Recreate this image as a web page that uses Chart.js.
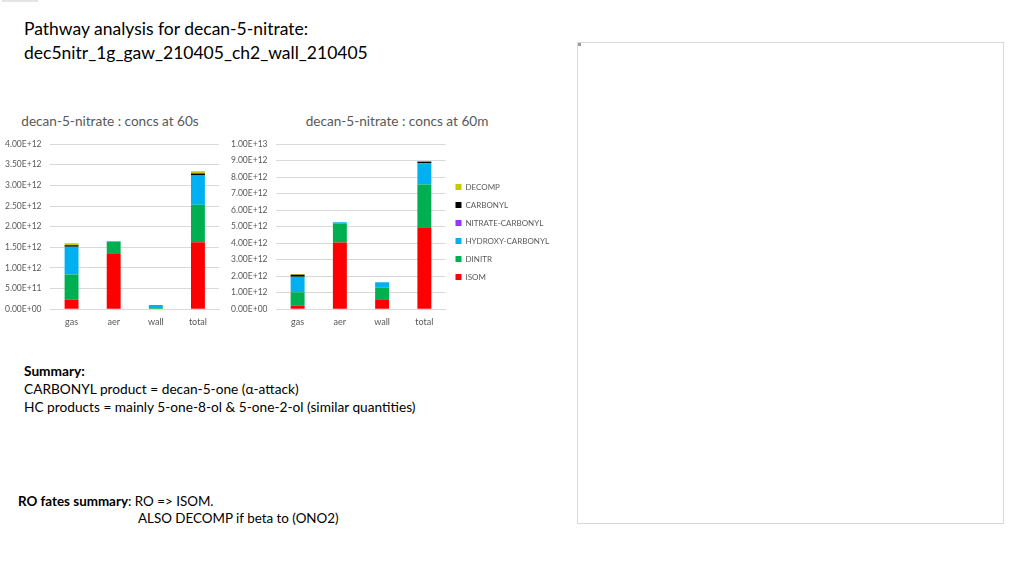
<!DOCTYPE html>
<html>
<head>
<meta charset="utf-8">
<script src="https://cdn.jsdelivr.net/npm/chart.js@4.4.1/dist/chart.umd.min.js"></script>
<style>
  html, body { margin: 0; padding: 0; background: #ffffff; }
  body { width: 1024px; height: 576px; position: relative; overflow: hidden; font-family: Lato, "Open Sans", sans-serif; color: #000; }
  .abs { position: absolute; white-space: nowrap; }
  #title { left: 24px; top: 17px; font-size: 17.5px; line-height: 24px; }
  #summary { left: 24px; top: 362px; font-size: 13.7px; line-height: 18px; }
  #ro1 { left: 18px; top: 493px; font-size: 13.4px; line-height: 17px; }
  #ro2 { left: 138px; top: 510px; font-size: 13.4px; line-height: 17px; }
  #frame { left: 577px; top: 42px; width: 425px; height: 480px; border: 1px solid #d9d9d9; }
  #mark { left: 578px; top: 43px; width: 3px; height: 3px; background: #9a9a9a; }
  #tiny { left: 2px; top: 0px; width: 36px; height: 2px; background: #e4e4e4; }
  .ctitle { position: absolute; top: 112px; width: 300px; text-align: center; font-size: 13.6px; line-height: 18px; color: #595959; white-space: nowrap; }
  .wrap { position: absolute; }
</style>
</head>
<body>
<div class="abs" id="tiny"></div>
<div class="abs" id="title">Pathway analysis for decan-5-nitrate:<br>dec5nitr_1g_gaw_210405_ch2_wall_210405</div>
<div class="abs" id="summary"><b>Summary:</b><br>CARBONYL product = decan-5-one (α-attack)<br>HC products = mainly 5-one-8-ol &amp; 5-one-2-ol (similar quantities)</div>
<div class="abs" id="ro1"><b>RO fates summary</b>: RO =&gt; ISOM.</div>
<div class="abs" id="ro2">ALSO DECOMP if beta to (ONO2)</div>
<div class="abs" id="frame"></div>
<div class="abs" id="mark"></div>

<div class="ctitle" id="t1" style="left:-40px;"></div>
<div class="ctitle" id="t2" style="left:247px;"></div>

<div class="wrap" style="left:-4px; top:130px; width:226px; height:208px;"><canvas id="c1"></canvas></div>
<div class="wrap" style="left:222px; top:130px; width:343px; height:208px;"><canvas id="c2"></canvas></div>

<script>
// ---- data ----
const categories = ["gas", "aer", "wall", "total"];
const seriesNames = ["ISOM", "DINITR", "HYDROXY-CARBONYL", "NITRATE-CARBONYL", "CARBONYL", "DECOMP"];
const seriesColors = ["#ff0000", "#00b050", "#00b0f0", "#9933ff", "#000000", "#c8c800"];
const chartTitles = ["decan-5-nitrate : concs at 60s", "decan-5-nitrate : concs at 60m"];

// concs at 60s
const isom60s    = [0.23e12, 1.34e12, 0,       1.62e12];
const dinitr60s  = [0.61e12, 0.30e12, 0.03e12, 0.91e12];
const hc60s      = [0.67e12, 0.005e12,0.07e12, 0.71e12];
const nc60s      = [0,       0,       0,       0];
const carbonyl60s= [0.04e12, 0,       0,       0.05e12];
const decomp60s  = [0.05e12, 0,       0,       0.05e12];

// concs at 60m
const isom60m    = [0.22e12, 4.04e12, 0.56e12, 4.92e12];
const dinitr60m  = [0.80e12, 1.14e12, 0.74e12, 2.63e12];
const hc60m      = [0.95e12, 0.08e12, 0.33e12, 1.29e12];
const nc60m      = [0,       0,       0,       0];
const carbonyl60m= [0.11e12, 0,       0,       0.09e12];
const decomp60m  = [0.05e12, 0,       0,       0.05e12];

const yMax60s = 4e12, yStep60s = 0.5e12;
const yMax60m = 1e13, yStep60m = 1e12;

document.getElementById("t1").textContent = chartTitles[0];
document.getElementById("t2").textContent = chartTitles[1];

// ---- helpers ----
function sci(v) {
  const s = Number(v).toExponential(2).toUpperCase();
  const m = s.match(/^(-?[\d.]+)E([+-])(\d+)$/);
  if (!m) return s;
  return m[1] + "E" + m[2] + (m[3].length < 2 ? "0" + m[3] : m[3]);
}
function makeDatasets(arrs) {
  return arrs.map((data, i) => ({
    label: seriesNames[i],
    data: data,
    backgroundColor: seriesColors[i],
    borderWidth: 0,
    categoryPercentage: 1.0,
    barPercentage: 0.33
  }));
}
const FONT = "Lato, 'Open Sans', sans-serif";
const GREY = "#595959";

function makeChart(id, datasets, yMax, yStep, showLegend) {
  return new Chart(document.getElementById(id), {
    type: "bar",
    data: { labels: categories, datasets: datasets },
    options: {
      responsive: true,
      maintainAspectRatio: false,
      animation: false,
      layout: { padding: { left: 0, right: showLegend ? 6 : 3, top: 3, bottom: 4 } },
      plugins: {
        title: { display: false },
        legend: {
          display: showLegend,
          position: "right",
          align: "start",
          reverse: true,
          maxWidth: 200,
          title: { display: true, text: "", font: { family: FONT, size: 10 }, padding: { top: 28, bottom: 0 } },
          labels: {
            boxWidth: 6, boxHeight: 6, padding: 10, color: GREY,
            font: { family: FONT, size: 8 }
          }
        },
        tooltip: { enabled: false }
      },
      scales: {
        x: {
          stacked: true,
          grid: { display: false, drawTicks: false },
          border: { display: true, color: "#d9d9d9" },
          ticks: { color: GREY, font: { family: FONT, size: 9 }, padding: 7 }
        },
        y: {
          stacked: true,
          min: 0, max: yMax,
          grid: { color: "#d9d9d9", drawTicks: false },
          border: { display: false },
          ticks: {
            stepSize: yStep, color: GREY, padding: 9,
            font: { family: FONT, size: 8.5 },
            callback: (v) => sci(v)
          }
        }
      }
    }
  });
}

makeChart("c1",
  makeDatasets([isom60s, dinitr60s, hc60s, nc60s, carbonyl60s, decomp60s]),
  yMax60s, yStep60s, false);
makeChart("c2",
  makeDatasets([isom60m, dinitr60m, hc60m, nc60m, carbonyl60m, decomp60m]),
  yMax60m, yStep60m, true);
</script>
</body>
</html>
